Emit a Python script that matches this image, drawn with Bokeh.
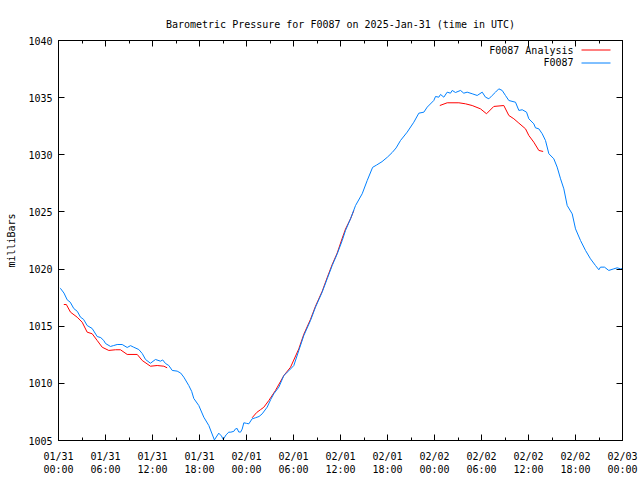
import math
from bokeh.plotting import figure
from bokeh.models import FixedTicker, LinearAxis, Range1d, Label, Arrow
from bokeh.embed import file_html
from bokeh.resources import INLINE

# ---- data (hours since 2025-01-31 00:00 UTC, milliBars) ----
x_ticks = [0, 6, 12, 18, 24, 30, 36, 42, 48, 54, 60, 66, 72]
x_minor = [3, 9, 15, 21, 27, 33, 39, 45, 51, 57, 63, 69]
x_tick_labels = ["01/31\n00:00", "01/31\n06:00", "01/31\n12:00", "01/31\n18:00",
                 "02/01\n00:00", "02/01\n06:00", "02/01\n12:00", "02/01\n18:00",
                 "02/02\n00:00", "02/02\n06:00", "02/02\n12:00", "02/02\n18:00",
                 "02/03\n00:00"]
y_ticks = [1005, 1010, 1015, 1020, 1025, 1030, 1035, 1040]

obs_hours = [0.2, 0.26, 0.7, 1.11, 1.5, 1.95, 2.4, 2.81, 3.2, 3.66, 4.30, 4.94, 5.4, 5.78, 6.00,
             6.64, 7.0, 7.49, 8.13, 8.77, 9.2, 9.61, 10.25, 10.69, 11.11, 11.74, 12.38, 13.02,
             13.3, 13.66, 14.08, 14.52, 15.15, 15.6, 16.00, 16.63, 17.0, 17.27, 17.91, 18.55,
             19.19, 19.9, 20.46, 20.8, 21.03, 21.4, 21.74, 22.0, 22.38, 22.6, 22.81, 23.0,
             23.24, 23.45, 23.66, 24.0, 24.3, 24.72, 25.15, 25.6, 26.0, 26.64, 27.1, 27.49,
             28.13, 28.77, 29.4, 30.04, 30.68, 31.32, 32.17, 32.81, 33.66, 34.3, 34.94, 35.58,
             36.22, 36.64, 37.28, 37.92, 38.77, 39.41, 40.1, 40.6, 41.3, 42.0, 42.6, 43.1,
             43.66, 44.51, 45.36, 46.0, 46.64, 47.07, 47.91, 48.13, 48.55, 48.77, 49.19,
             49.62, 50.04, 50.26, 50.68, 51.32, 51.74, 52.17, 52.81, 53.45, 54.09, 54.51,
             54.94, 55.36, 55.79, 56.21, 56.64, 57.06, 57.49, 58.34, 58.77, 59.2, 59.75,
             60.04, 60.68, 60.89, 61.32, 61.75, 62.17, 62.6, 63.23, 63.66, 64.09, 64.51,
             64.94, 65.58, 66.0, 66.64, 67.28, 67.91, 68.55, 68.98, 69.19, 69.7, 70.25,
             70.89, 71.32, 71.74, 72.0]
obs_mb = [1018.35, 1018.30, 1017.9, 1017.31, 1017.1, 1016.55, 1016.3, 1015.79, 1015.6, 1015.06,
          1014.80, 1014.10, 1014.0, 1013.75, 1013.49, 1013.23, 1013.3, 1013.40, 1013.40,
          1013.14, 1013.3, 1013.16, 1012.96, 1012.61, 1012.09, 1011.76, 1012.09, 1011.94,
          1012.05, 1011.74, 1011.56, 1011.13, 1011.07, 1010.9, 1010.54, 1009.81, 1009.3,
          1008.68, 1008.06, 1007.04, 1006.31, 1005.05, 1005.64, 1005.4, 1005.1, 1005.5,
          1005.73, 1005.73, 1005.8, 1006.02, 1006.05, 1005.75, 1005.73, 1006.0, 1006.55,
          1006.5, 1006.46, 1006.9, 1006.99, 1007.1, 1007.33, 1007.92, 1008.6, 1009.09,
          1009.67, 1010.69, 1011.1, 1011.56, 1012.88, 1014.19, 1015.5, 1016.67, 1017.98,
          1019.15, 1020.31, 1021.33, 1022.5, 1023.38, 1024.4, 1025.56, 1026.59, 1027.75,
          1028.9, 1029.1, 1029.4, 1029.8, 1030.2, 1030.6, 1031.25, 1031.98, 1032.85,
          1033.64, 1033.73, 1034.17, 1034.75, 1035.1, 1035.04, 1035.28, 1035.04, 1035.48,
          1035.39, 1035.63, 1035.45, 1035.63, 1035.39, 1035.48, 1035.34, 1035.19, 1035.48,
          1035.04, 1034.9, 1035.19, 1035.48, 1035.77, 1035.63, 1035.19, 1034.75, 1034.6,
          1033.88, 1033.94, 1033.73, 1033.15, 1032.71, 1032.36, 1032.27, 1031.84, 1031.25,
          1030.09, 1029.65, 1028.92, 1027.9, 1027.02, 1025.56, 1024.83, 1023.52, 1022.5,
          1021.63, 1020.9, 1020.31, 1019.94, 1020.17, 1020.17, 1019.88, 1020.02, 1020.11,
          1020.02, 1020.05]

NaN = float("nan")
ana_hours = [0.68, 1.0, 1.53, 2.38, 3.02, 3.66, 4.30, 4.94, 5.58, 6.42, 7.28, 7.91, 8.77,
             10.05, 10.69, 11.74, 12.60, 13.45, 13.87, NaN,
             24.72, 25.3, 25.79, 26.2, 26.85, 27.70, 28.77, 29.62, 30.68, 31.32, 32.17,
             32.81, 33.66, 34.3, 34.94, 35.58, 36.22, 36.64, 37.28, 37.7, NaN,
             48.68, 49.62, 51.11, 51.96, 52.81, 53.87, 54.64, 55.57, 56.85, 57.49, 58.13,
             58.77, 59.62, 60.04, 60.68, 61.32, 61.87]
ana_mb = [1016.90, 1016.9, 1016.23, 1015.79, 1015.35, 1014.48, 1014.34, 1013.75, 1013.16,
          1012.88, 1012.94, 1012.94, 1012.53, 1012.53, 1012.00, 1011.50, 1011.56, 1011.50,
          1011.36, NaN,
          1006.99, 1007.45, 1007.7, 1007.9, 1008.5, 1009.38, 1010.69, 1011.41, 1013.02,
          1014.3, 1015.6, 1016.75, 1018.05, 1019.25, 1020.4, 1021.4, 1022.7, 1023.5, 1024.4,
          1025.12, NaN,
          1034.31, 1034.55, 1034.55, 1034.46, 1034.31, 1034.02, 1033.59, 1034.23, 1034.31,
          1033.44, 1033.15, 1032.77, 1032.27, 1031.69, 1031.1, 1030.38, 1030.29]

TITLE = "Barometric Pressure for F0087 on 2025-Jan-31 (time in UTC)"
FONT = "DejaVu Sans Mono"
FS = "10px"
RED = "#ff0000"
BLUE = "#0080ff"

p = figure(width=640, height=480, output_backend="svg", toolbar_location=None,
           x_range=Range1d(0, 72), y_range=Range1d(1005, 1040),
           x_axis_type=None, y_axis_type=None,
           min_border_left=58, min_border_right=18, min_border_top=40, min_border_bottom=40)
p.title.text = TITLE
p.title.align = "center"
p.title.text_font = FONT
p.title.text_font_size = FS
p.title.text_font_style = "normal"
p.title.text_color = "black"
p.title.standoff = 22
p.outline_line_color = "black"
p.outline_line_width = 1
p.background_fill_color = "white"
p.border_fill_color = "white"

xt = FixedTicker(ticks=x_ticks, minor_ticks=x_minor)
yt = FixedTicker(ticks=y_ticks, minor_ticks=[])


def style(ax):
    ax.major_tick_in = 6
    ax.major_tick_out = 0
    ax.minor_tick_in = 3
    ax.minor_tick_out = 0
    ax.axis_line_color = "black"
    ax.major_tick_line_color = "black"
    ax.minor_tick_line_color = "black"
    ax.major_label_text_font = FONT
    ax.major_label_text_font_size = FS
    ax.major_label_text_color = "black"


xb = LinearAxis(ticker=xt)
style(xb)
xb.major_label_overrides = {t: l for t, l in zip(x_ticks, x_tick_labels)}
xb.major_label_standoff = 10
p.add_layout(xb, "below")

# mirrored tick marks (no labels) on top and right, as gnuplot draws them
xa = LinearAxis(ticker=xt)
style(xa)
xa.major_label_overrides = {t: "" for t in x_ticks}
xa.major_label_standoff = 0
p.add_layout(xa, "above")

yl = LinearAxis(ticker=yt, axis_label="milliBars")
style(yl)
yl.major_label_standoff = 6
yl.axis_label_text_font = FONT
yl.axis_label_text_font_size = FS
yl.axis_label_text_font_style = "normal"
yl.axis_label_text_color = "black"
yl.axis_label_standoff = 8
p.add_layout(yl, "left")

yr = LinearAxis(ticker=yt)
style(yr)
yr.major_label_overrides = {t: "" for t in y_ticks}
yr.major_label_standoff = 0
p.add_layout(yr, "right")

p.xgrid.grid_line_color = None
p.ygrid.grid_line_color = None

p.line(ana_hours, ana_mb, line_color=RED, line_width=1)
p.line(obs_hours, obs_mb, line_color=BLUE, line_width=1)

# legend (gnuplot style: text then sample), positioned inside the frame's top-right
p.add_layout(Label(x=515, y=390, x_units="screen", y_units="screen", text="F0087 Analysis",
                   text_align="right", text_baseline="middle", text_font=FONT,
                   text_font_size=FS, text_color="black"))
p.add_layout(Label(x=515, y=378, x_units="screen", y_units="screen", text="F0087",
                   text_align="right", text_baseline="middle", text_font=FONT,
                   text_font_size=FS, text_color="black"))
p.add_layout(Arrow(start=None, end=None, x_start=523, y_start=390.5, x_end=552, y_end=390.5,
                   start_units="screen", end_units="screen", line_color=RED, line_width=1))
p.add_layout(Arrow(start=None, end=None, x_start=523, y_start=377.5, x_end=552, y_end=377.5,
                   start_units="screen", end_units="screen", line_color=BLUE, line_width=1))

open("out.html", "w").write(file_html(p, INLINE))
